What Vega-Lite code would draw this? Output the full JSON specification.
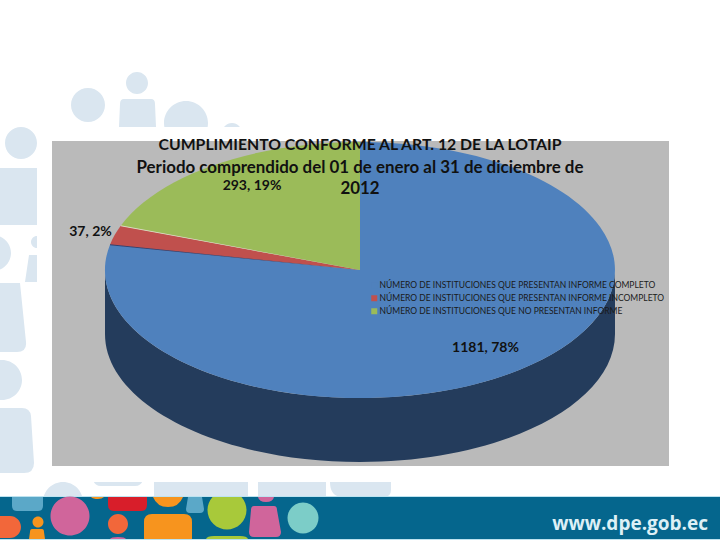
{
  "$schema": "https://vega.github.io/schema/vega-lite/v6.json",
  "width": 720,
  "height": 540,
  "padding": 0,
  "autosize": {"type": "none"},
  "background": "white",
  "config": {"view": {"stroke": null}, "font": "Lato"},
  "resolve": {"legend": {"color": "independent"}},
  "title": {
    "text": "CUMPLIMIENTO CONFORME AL ART. 12 DE LA LOTAIP",
    "subtitle": ["Periodo comprendido del 01 de enero al 31 de diciembre de", "2012"],
    "anchor": "middle",
    "font": "Lato",
    "fontSize": 15.8,
    "fontWeight": "bold",
    "color": "#111111",
    "subtitleFont": "Lato",
    "subtitleFontSize": 16.9,
    "subtitleFontWeight": "bold",
    "subtitleColor": "#111111",
    "subtitleLineHeight": 21.5,
    "subtitlePadding": 6,
    "offset": 0,
    "dy": 198
  },
  "datasets": {
    "rows": [
      {"part": "backdrop"},
      {"part": "mask"},
      {"part": "band edge"},
      {"part": "band"},
      {"part": "teal"},
      {"part": "pink"},
      {"part": "red"},
      {"part": "orange"},
      {"part": "coral"},
      {"part": "green"},
      {"part": "aqua"},
      {"part": "panel"},
      {"part": "wall"},
      {"part": "rim"},
      {"part": "NÚMERO DE INSTITUCIONES QUE PRESENTAN INFORME COMPLETO", "value": 1181, "label": "1181, 78%"},
      {"part": "NÚMERO DE INSTITUCIONES QUE PRESENTAN INFORME INCOMPLETO", "value": 37, "label": "37, 2%"},
      {"part": "NÚMERO DE INSTITUCIONES QUE NO PRESENTAN INFORME", "value": 293, "label": "293, 19%"},
      {"part": "seam dark"},
      {"part": "seam light"}
    ]
  },
  "data": {"name": "rows"},
  "layer": [
    {
      "mark": {"type": "point", "filled": true, "size": 4, "opacity": 1, "strokeWidth": 0},
      "encoding": {
        "color": {
          "field": "part",
          "type": "nominal",
          "scale": {
            "domain": ["backdrop", "mask", "band edge", "band", "teal", "pink", "red", "orange", "coral", "green", "aqua", "panel", "wall", "rim", "NÚMERO DE INSTITUCIONES QUE PRESENTAN INFORME COMPLETO", "NÚMERO DE INSTITUCIONES QUE PRESENTAN INFORME INCOMPLETO", "NÚMERO DE INSTITUCIONES QUE NO PRESENTAN INFORME", "seam dark", "seam light"],
            "range": ["#DAE6F0", "#FFFFFF", "#BDE3F0", "#05668D", "#5BA8C8", "#D0659B", "#D81E2A", "#F7941E", "#F2673A", "#A8C93A", "#7CCDC8", "#BABABA", "#243C5C", "#B8CCE4", "#4F81BD", "#C0504D", "#9BBB59", "#2F3F6F", "#DDD9C3"]
          },
          "legend": null
        },
        "shape": {
          "field": "part",
          "type": "nominal",
          "legend": null,
          "scale": {
            "domain": ["backdrop", "mask", "band edge", "band", "teal", "pink", "red", "orange", "coral", "green", "aqua", "panel", "wall", "rim", "NÚMERO DE INSTITUCIONES QUE PRESENTAN INFORME COMPLETO", "NÚMERO DE INSTITUCIONES QUE PRESENTAN INFORME INCOMPLETO", "NÚMERO DE INSTITUCIONES QUE NO PRESENTAN INFORME", "seam dark", "seam light"],
            "range": [
              "M-289,-165A17,17 0 1 1 -255,-165A17,17 0 1 1 -289,-165ZM-234,-187A11,11 0 1 1 -212,-187A11,11 0 1 1 -234,-187ZM-236,-171H-209Q-205,-171 -205,-166L-204,-143H-241L-240,-166Q-240,-171 -236,-171ZM-196,-147A22,22 0 1 1 -152,-147A22,22 0 1 1 -196,-147ZM-138,-137A10,10 0 1 1 -118,-137A10,10 0 1 1 -138,-137ZM-355,-127A16,16 0 1 1 -323,-127A16,16 0 1 1 -355,-127ZM-360,-102H-323V-45H-360ZM-385,-17A18,18 0 1 1 -349,-17A18,18 0 1 1 -385,-17ZM-329,-28A6,6 0 1 1 -317,-28A6,6 0 1 1 -329,-28ZM-331,-15H-323V12H-335ZM-360,13H-340L-334,72Q-333,82 -343,82H-360ZM-378,110A20,20 0 1 1 -338,110A20,20 0 1 1 -378,110ZM-360,138H-338Q-330,138 -329,146L-326,193Q-326,203 -336,203H-360ZM-317,232A20,20 0 1 1 -277,232A20,20 0 1 1 -317,232ZM-267,210H-217Q-219,216 -225,216H-259Q-265,216 -267,210ZM-206,212H-112V227H-206ZM-102,212H-34V227H-102ZM-30,212H31V220Q31,226 25,227H-20Q-30,225 -30,212Z",
              "M-323,-143H360V212H-323Z",
              "M-360,226H360V270H-360Z",
              "M-360,227H360V269H-360Z",
              "M-348,227H-317V236Q-317,241 -322,241H-343Q-348,241 -348,236ZM-172,227H-158L-156,239Q-156,243 -160,243H-170Q-174,243 -174,239Z",
              "M-309.5,246A19.5,19.5 0 1 1 -270.5,246A19.5,19.5 0 1 1 -309.5,246ZM-102,227H-86Q-87,232 -94,232Q-101,232 -102,227ZM-106,236H-86Q-83,236 -83,240L-79,262Q-79,267 -84,267H-106Q-111,267 -111,262L-109,240Q-109,236 -106,236ZM-250,269Q-249,267 -242,267Q-235,267 -234,269Z",
              "M-252,227H-213V235Q-213,241 -219,241H-246Q-252,241 -252,235Z",
              "M-207,227H-177Q-181,237 -192,237Q-203,237 -207,227ZM-269,227H-256Q-258,229 -262,229Q-267,229 -269,227ZM-327.5,252A5.5,5.5 0 1 1 -316.5,252A5.5,5.5 0 1 1 -327.5,252ZM-328,259H-318Q-316,259 -316,262L-315,269H-331L-330,262Q-330,259 -328,259ZM-208,244H-176Q-168,244 -168,252V269H-216V252Q-216,244 -208,244Z",
              "M-252,254A10,10 0 1 1 -232,254A10,10 0 1 1 -252,254ZM-360,246H-350A11,11 0 0 1 -350,268H-360Z",
              "M-147.5,227H-118.5A19.5,19.5 0 1 1 -147.5,227ZM-154,269Q-153,266 -146,266H-120Q-113,266 -112,269Z",
              "M-72.5,248A15.5,15.5 0 1 1 -41.5,248A15.5,15.5 0 1 1 -72.5,248Z",
              "M-308,-129H309V196H-308Z",
              "M-255,0A255,128 0 0 0 255,0L255,64A255,128 0 0 1 -255,64Z",
              "M-255,0A255.6,128.7 0 0 0 255,0Z",
              "M0,0L0,-128A255,128 0 1 1 -250,-25.3Z",
              "M0,0L-250,-25.3A255,128 0 0 1 -239.3,-44.2Z",
              "M0,0L-239.3,-44.2A255,128 0 0 1 0,-128Z",
              "M0,0L-250,-25.8L-250,-24.8Z",
              "M0,0L-239.3,-44.7L-239.3,-43.7Z"
            ]
          }
        }
      }
    },
    {
      "transform": [{"filter": "isValid(datum.value)"}],
      "mark": {"type": "square", "size": 0, "opacity": 1},
      "encoding": {
        "color": {
          "field": "part",
          "type": "nominal",
          "legend": {
            "values": ["NÚMERO DE INSTITUCIONES QUE PRESENTAN INFORME COMPLETO", "NÚMERO DE INSTITUCIONES QUE PRESENTAN INFORME INCOMPLETO", "NÚMERO DE INSTITUCIONES QUE NO PRESENTAN INFORME"],
            "title": null,
            "orient": "none",
            "legendX": 370,
            "legendY": 281,
            "zindex": 1,
            "symbolType": "square",
            "symbolSize": 36,
            "symbolStrokeWidth": 0,
            "labelFont": "Lato",
            "labelFontSize": 8.5,
            "labelColor": "#1A1A1A",
            "labelOffset": 1,
            "labelLimit": 320,
            "rowPadding": 4,
            "symbolOffset": 0,
            "padding": 0
          }
        }
      }
    },
    {
      "transform": [{"filter": "datum.label == '1181, 78%'"}],
      "mark": {"type": "text", "font": "Lato", "fontSize": 14, "fontWeight": "bold", "color": "#111111", "dx": 125.5, "dy": 77.5},
      "encoding": {"text": {"field": "label"}}
    },
    {
      "transform": [{"filter": "datum.label == '37, 2%'"}],
      "mark": {"type": "text", "font": "Lato", "fontSize": 14, "fontWeight": "bold", "color": "#111111", "dx": -269.5, "dy": -38},
      "encoding": {"text": {"field": "label"}}
    },
    {
      "transform": [{"filter": "datum.label == '293, 19%'"}],
      "mark": {"type": "text", "font": "Lato", "fontSize": 14, "fontWeight": "bold", "color": "#111111", "dx": -108, "dy": -84},
      "encoding": {"text": {"field": "label"}}
    },
    {
      "data": {"values": [{"site": "www.dpe.gob.ec"}]},
      "mark": {"type": "text", "font": "Open Sans", "fontSize": 19, "fontWeight": "bold", "color": "#DDF0F6", "align": "right", "baseline": "alphabetic", "dx": 348, "dy": 260},
      "encoding": {"text": {"field": "site"}}
    }
  ]
}
